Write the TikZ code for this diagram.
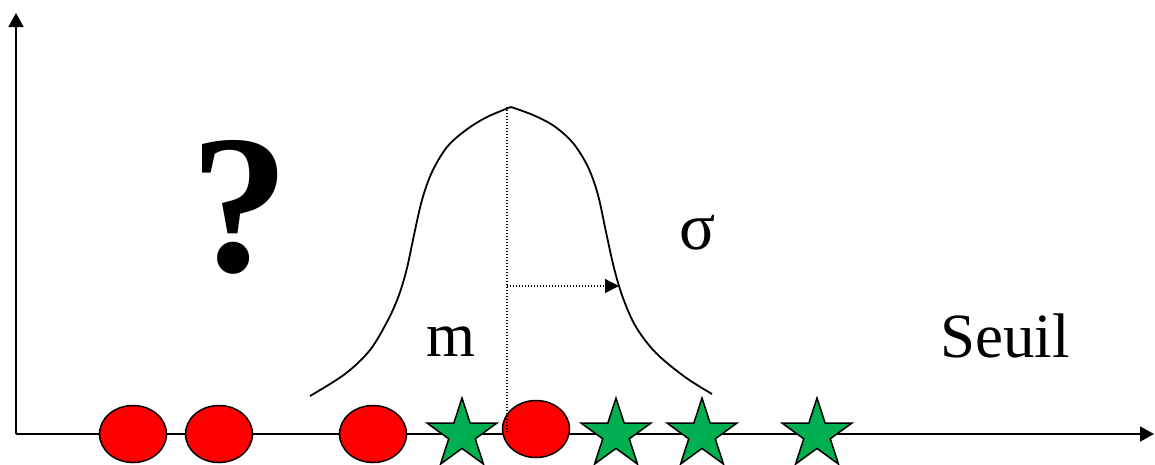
\documentclass[tikz,border=0pt]{standalone}
\usepackage{fontspec}
\setmainfont{Liberation Serif}
\usetikzlibrary{shapes.geometric,arrows.meta}
\definecolor{ptred}{RGB}{255,0,0}
\definecolor{ptgreen}{RGB}{0,176,80}
\begin{document}
\begin{tikzpicture}[x=1pt,y=-1pt,
  axisline/.style={line width=1.8pt,-{Triangle[length=14pt,width=15pt]}},
  redpt/.style={ellipse,draw=black,line width=1.5pt,fill=ptred,minimum width=67pt,minimum height=57pt,inner sep=0pt},
  greenpt/.style={star,star points=5,star point ratio=2.618,draw=black,line width=1.5pt,fill=ptgreen,minimum size=73pt,inner sep=0pt},
  dotline/.style={line width=1.2pt,dash pattern=on 1.2pt off 1.8pt},
  curveline/.style={line width=1.8pt},
  bigtxt/.style={inner sep=0pt,anchor=base west,font=\fontsize{63}{70}\selectfont}]
\useasboundingbox (0,0) rectangle (1155,464);
% axes
\coordinate (O) at (16,434);
\coordinate (ytop) at (16,13);
\coordinate (xend) at (1154,434);
\draw[axisline] (O) -- (ytop);
\draw[axisline] (O) -- (xend);
% points
\node[redpt] (r1) at (133,434) {};
\node[redpt] (r2) at (219,434) {};
\node[redpt] (r3) at (373,434) {};
\node[greenpt] (g1) at (462,434.5) {};
\node[redpt] (r4) at (536,429) {};
\node[greenpt] (g2) at (616,434.5) {};
\node[greenpt] (g3) at (702,434.5) {};
\node[greenpt] (g4) at (817,434.5) {};
% bell curve
\draw[curveline] plot[smooth,tension=0.55] coordinates {(310,396) (345,374) (370,350) (388,320) (399,295) (407,268) (414,235) (422,200) (432,172) (447,147) (466,130) (487,117) (511,107)};
\draw[curveline] plot[smooth,tension=0.55] coordinates {(511,107) (533,115) (554,126) (573,143) (588,167) (598,195) (606,232) (614,268) (623,298) (636,327) (656,353) (685,377) (712,394)};
% dotted guides
\coordinate (mtop) at (507,107);
\coordinate (mbot) at (507,434);
\coordinate (mmid) at (507,286);
\coordinate (sig) at (619,286);
\draw[dotline] (mtop) -- (mbot);
\draw[dotline,-{Triangle[length=14pt,width=14pt]}] (mmid) -- (sig);
% texts
\node[inner sep=0pt,anchor=base west,font=\fontsize{198}{200}\selectfont\bfseries] (q) at (190,271) {?};
\node[inner sep=0pt,anchor=base west,font=\fontsize{67}{70}\selectfont] (sigma) at (679,249) {σ};
\node[bigtxt] (m) at (426,356) {m};
\node[bigtxt] (seuil) at (940,357) {Seuil};
\end{tikzpicture}
\end{document}
